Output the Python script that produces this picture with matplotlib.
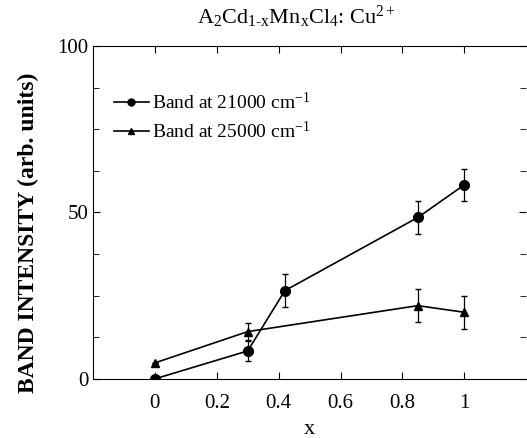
import matplotlib
matplotlib.use('Agg')
import matplotlib.pyplot as plt
from matplotlib.ticker import MultipleLocator

plt.rcParams['font.family'] = ['Liberation Serif', 'DejaVu Serif']
plt.rcParams['mathtext.fontset'] = 'custom'
plt.rcParams['mathtext.rm'] = 'Liberation Serif'
plt.rcParams['mathtext.it'] = 'Liberation Serif'

# band at 21000 cm-1
x_21000 = [0.0, 0.3, 0.42, 0.85, 1.0]
y_21000 = [0.0, 8.4, 26.5, 48.5, 58.3]
err_21000 = [0.0, 3.0, 5.0, 5.0, 4.8]

# band at 25000 cm-1
x_25000 = [0.0, 0.3, 0.85, 1.0]
y_25000 = [4.8, 14.2, 22.0, 20.0]
err_25000 = [0.0, 2.5, 5.0, 5.0]

fig = plt.figure(figsize=(5.27, 4.38), dpi=100)
ax = fig.add_axes([0.1765, 0.135, 0.822, 0.76])

ax.errorbar(x_21000, y_21000, yerr=err_21000, color='black', marker='o',
            markersize=7, linewidth=1.2, elinewidth=0.9, capsize=2.5)
ax.errorbar(x_25000, y_25000, yerr=err_25000, color='black', marker='^',
            markersize=6, linewidth=1.2, elinewidth=0.9, capsize=2.5)
# legend handles without error bars
ax.plot([], [], color='black', marker='o', markersize=5, linewidth=1.2,
        label='Band at 21000 cm$^{-1}$')
ax.plot([], [], color='black', marker='^', markersize=4.5, linewidth=1.2,
        label='Band at 25000 cm$^{-1}$')

ax.set_xlim(-0.2, 1.2)
ax.set_ylim(0, 100)
ax.set_xticks([0, 0.2, 0.4, 0.6, 0.8, 1.0])
ax.set_xticklabels(['0', '0.2', '0.4', '0.6', '0.8', '1'])
ax.set_yticks([0, 50, 100])
ax.yaxis.set_minor_locator(MultipleLocator(12.5))
ax.tick_params(which='both', direction='in', top=True, right=True,
               labelsize=15)
ax.tick_params(which='major', length=5)
ax.tick_params(which='minor', length=4)
ax.tick_params(axis='x', pad=11)
ax.spines['right'].set_visible(False)

ax.set_xlabel('x', fontsize=16, labelpad=5)
ax.set_ylabel('BAND INTENSITY (arb. units)', fontsize=17, fontweight='bold')
ax.yaxis.set_label_coords(-0.125, 0.44)
ax.set_title('A$_2$Cd$_{1\\text{-}x}$Mn$_x$Cl$_4$: Cu$^{2+}$', fontsize=16,
             pad=16, x=0.47)

leg = ax.legend(loc='upper left', fontsize=14, frameon=False,
                handlelength=1.8, handletextpad=0.15,
                bbox_to_anchor=(0.03, 0.885), borderaxespad=0,
                labelspacing=0.4)

fig.savefig('out.png', dpi=100)
